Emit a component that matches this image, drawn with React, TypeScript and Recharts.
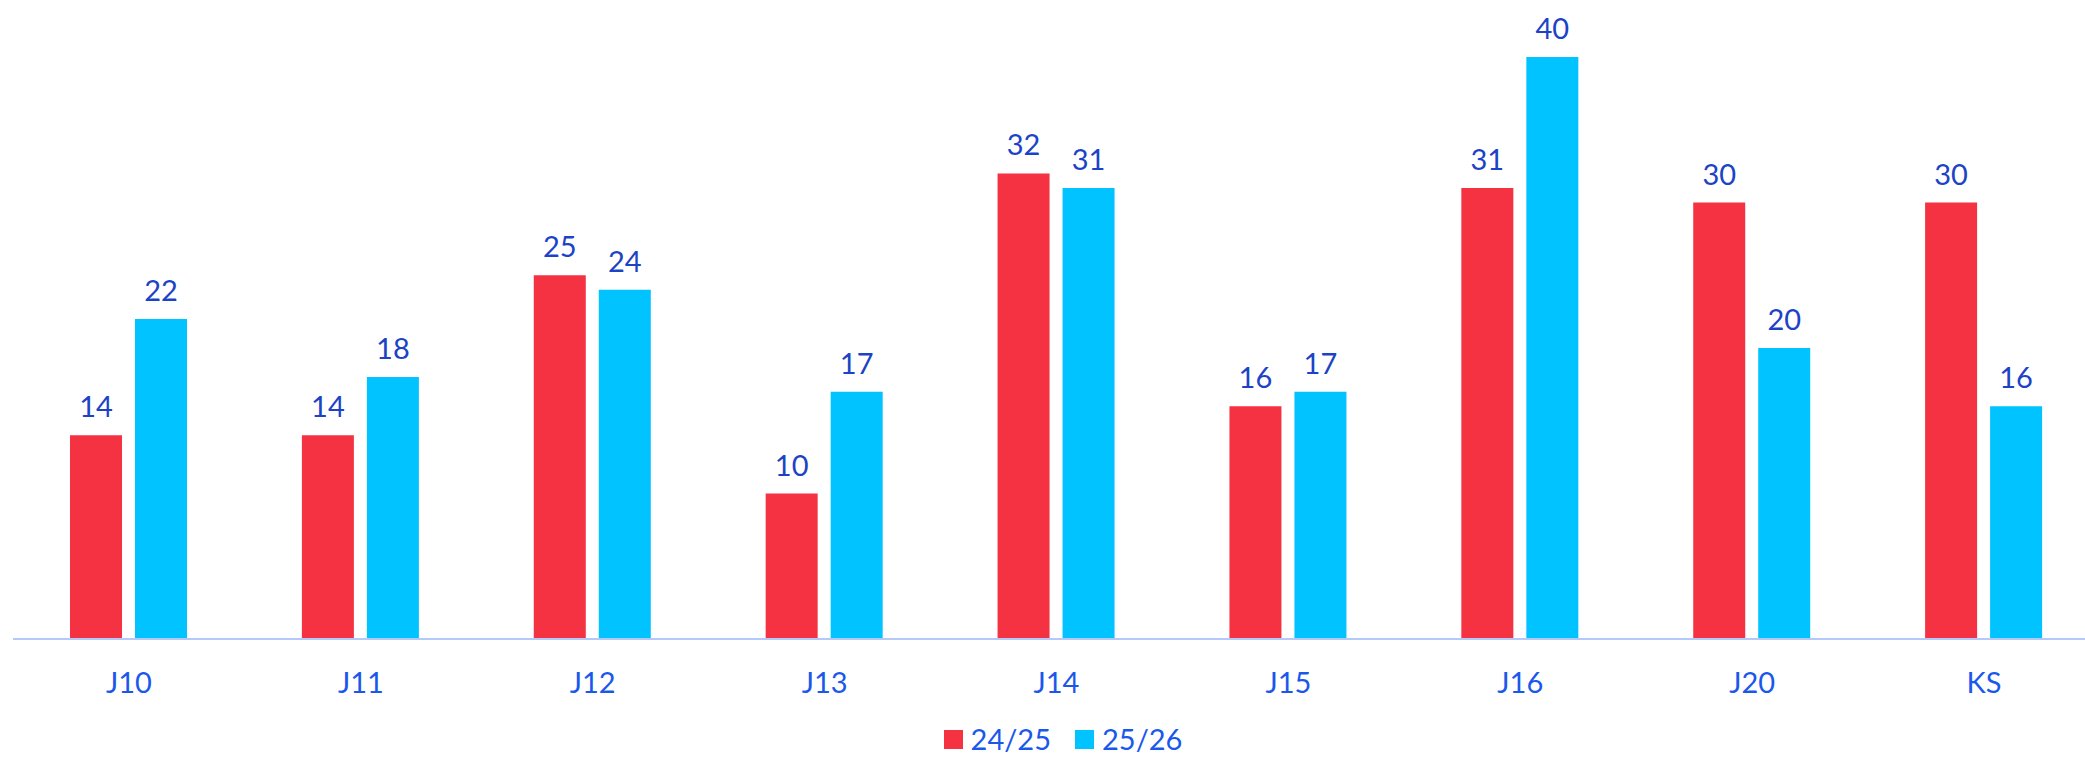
import React from 'react';
import { BarChart, Bar, XAxis, YAxis, Legend, LabelList } from 'recharts';

const categories = ['J10', 'J11', 'J12', 'J13', 'J14', 'J15', 'J16', 'J20', 'KS'];
const season2425 = [14, 14, 25, 10, 32, 16, 31, 30, 30];
const season2526 = [22, 18, 24, 17, 31, 17, 40, 20, 16];
const seriesNames = ['24/25', '25/26'];
const yDomain = [0, 40];

const RED = '#F43242';
const CYAN = '#00C3FF';
const LABEL_COLOR = '#1C43C6';
const TICK_COLOR = '#1A58EC';
const FONT = 'Lato, "Noto Sans", sans-serif';

const data = categories.map((c, i) => ({ name: c, a: season2425[i], b: season2526[i] }));

const LegendContent = () => (
  <div
    style={{
      height: 50,
      display: 'flex',
      justifyContent: 'center',
      alignItems: 'flex-end',
      paddingLeft: 13,
      paddingBottom: 7,
      boxSizing: 'border-box',
      fontFamily: FONT,
      fontSize: 29,
      color: TICK_COLOR,
    }}
  >
    {[RED, CYAN].map((col, i) => (
      <div key={i} style={{ display: 'flex', alignItems: 'center', marginRight: i === 0 ? 24 : 0 }}>
        <span style={{ display: 'inline-block', width: 19, height: 19, background: col, marginRight: 8 }} />
        <span style={{ lineHeight: '28px' }}>{seriesNames[i]}</span>
      </div>
    ))}
  </div>
);

export default function App() {
  return (
    <div style={{ position: 'absolute', left: 0, top: 0, width: 2085, height: 760, overflow: 'hidden', background: '#fff' }}>
      <BarChart
        width={2100}
        height={760}
        data={data}
        margin={{ top: 57, right: 0, bottom: 0, left: 13 }}
        barSize={52}
        barGap={13}
      >
        <XAxis
          dataKey="name"
          height={71}
          tickLine={false}
          tickSize={0}
          tickMargin={33}
          axisLine={{ stroke: '#B4C8FA', strokeWidth: 2 }}
          tick={{ fill: TICK_COLOR, fontSize: 29, fontFamily: FONT }}
          interval={0}
        />
        <YAxis hide domain={yDomain} />
        <Legend verticalAlign="bottom" wrapperStyle={{ height: 50 }} content={<LegendContent />} />
        <Bar dataKey="a" name={seriesNames[0]} fill={RED} isAnimationActive={false}>
          <LabelList dataKey="a" position="top" offset={18} style={{ fill: LABEL_COLOR, fontSize: 29, fontFamily: FONT }} />
        </Bar>
        <Bar dataKey="b" name={seriesNames[1]} fill={CYAN} isAnimationActive={false}>
          <LabelList dataKey="b" position="top" offset={18} style={{ fill: LABEL_COLOR, fontSize: 29, fontFamily: FONT }} />
        </Bar>
      </BarChart>
    </div>
  );
}
